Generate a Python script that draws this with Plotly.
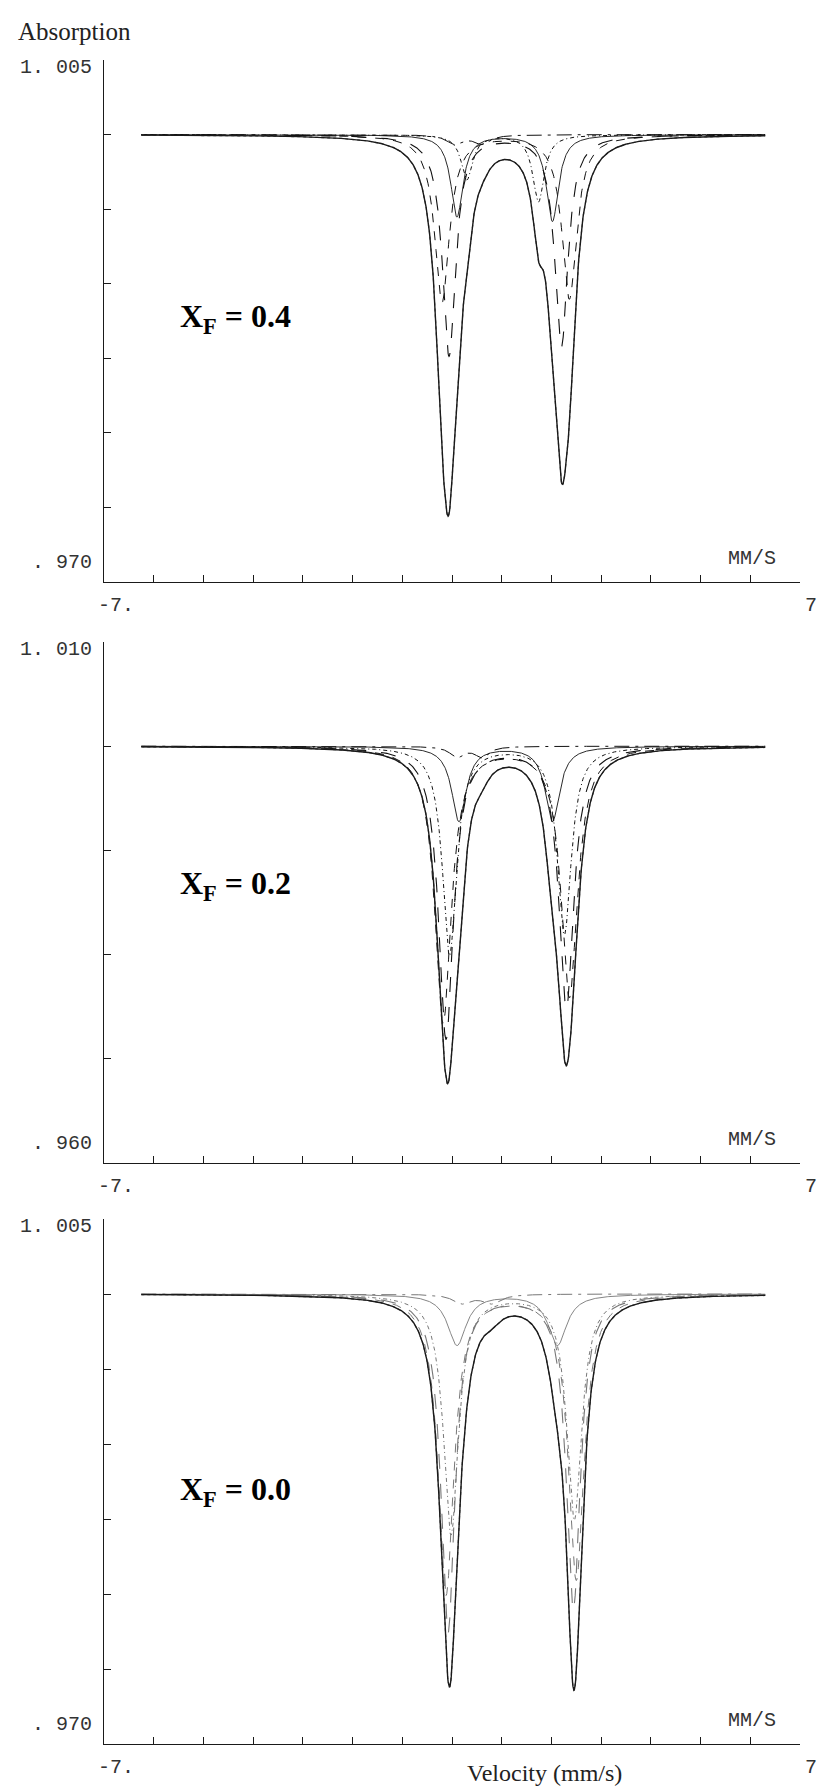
import numpy as np
import plotly.graph_objects as go

# ---------------- values ----------------
velocity_limits = [-7.0, 7.0]
velocity_ticks = [-6, -5, -4, -3, -2, -1, 0, 1, 2, 3, 4, 5, 6, 7]
data_span = [-6.25, 6.30]

panel_labels = ["X<sub>F</sub> = 0.4", "X<sub>F</sub> = 0.2", "X<sub>F</sub> = 0.0"]
y_ranges = [[0.970, 1.005], [0.960, 1.010], [0.970, 1.005]]
y_top_text = ["1. 005", "1. 010", "1. 005"]
y_bottom_text = [". 970", ". 960", ". 970"]
y_tick_values = [[0.975, 0.980, 0.985, 0.990, 0.995, 1.000],
                 [0.970, 0.980, 0.990, 1.000],
                 [0.975, 0.980, 0.985, 0.990, 0.995, 1.000]]

# envelope (total fit) lines: left line, right line, left depth, right depth, FWHM mm/s
p1_fit_lv = [-0.06, -0.20, 0.10, 0.30, 0.05]
p1_fit_rv = [2.20, 2.36, 2.02, 1.74, 0.60]
p1_fit_ld = [0.0148, 0.0112, 0.0055, 0.0030, 0.0006]
p1_fit_rd = [0.0142, 0.0110, 0.0058, 0.0045, 0.0006]
p1_fit_fw = [0.32, 0.36, 0.30, 0.28, 0.40]

p2_fit_lv = [-0.05, -0.20, 0.14, -0.12, 0.10]
p2_fit_rv = [2.25, 2.42, 2.02, 2.33, 0.60]
p2_fit_ld = [0.0140, 0.0110, 0.0072, 0.0075, 0.0010]
p2_fit_rd = [0.0140, 0.0112, 0.0072, 0.0075, 0.0010]
p2_fit_fw = [0.34, 0.40, 0.35, 0.35, 0.35]

p3_fit_lv = [-0.05, -0.15, 0.10, 0.00, 0.20]
p3_fit_rv = [2.42, 2.52, 2.12, 2.47, 0.80]
p3_fit_ld = [0.0109, 0.0086, 0.0034, 0.0062, 0.0006]
p3_fit_rd = [0.0115, 0.0090, 0.0034, 0.0062, 0.0006]
p3_fit_fw = [0.32, 0.38, 0.45, 0.36, 0.45]

# drawn sub-spectra curves (same order of line styles)
p1_sub_lv = p1_fit_lv
p1_sub_rv = p1_fit_rv
p1_sub_ld = p1_fit_ld
p1_sub_rd = p1_fit_rd
p1_sub_fw = p1_fit_fw

p2_sub_lv = [-0.12, -0.18, 0.14, -0.05, 0.10]
p2_sub_rv = [2.30, 2.36, 2.02, 2.26, 0.60]
p2_sub_ld = [0.0280, 0.0265, 0.0072, 0.0200, 0.0010]
p2_sub_rd = [0.0250, 0.0240, 0.0072, 0.0180, 0.0010]
p2_sub_fw = [0.36, 0.40, 0.35, 0.34, 0.35]

p3_sub_lv = [-0.08, -0.12, 0.10, -0.02, 0.20]
p3_sub_rv = [2.44, 2.50, 2.12, 2.46, 0.80]
p3_sub_ld = [0.0225, 0.0200, 0.0034, 0.0160, 0.0006]
p3_sub_rd = [0.0210, 0.0190, 0.0034, 0.0150, 0.0006]
p3_sub_fw = [0.34, 0.38, 0.45, 0.36, 0.45]

fits = [(p1_fit_lv, p1_fit_rv, p1_fit_ld, p1_fit_rd, p1_fit_fw),
        (p2_fit_lv, p2_fit_rv, p2_fit_ld, p2_fit_rd, p2_fit_fw),
        (p3_fit_lv, p3_fit_rv, p3_fit_ld, p3_fit_rd, p3_fit_fw)]
subs = [(p1_sub_lv, p1_sub_rv, p1_sub_ld, p1_sub_rd, p1_sub_fw),
        (p2_sub_lv, p2_sub_rv, p2_sub_ld, p2_sub_rd, p2_sub_fw),
        (p3_sub_lv, p3_sub_rv, p3_sub_ld, p3_sub_rd, p3_sub_fw)]

# ---------------- styling / layout ----------------
W, H = 829, 1787
x_px = [96, 792]
panel_px = [(52, 574), (634, 1155), (1211, 1736)]
label_px_y = [310, 878, 1483]
comp_color = ["#111", "#111", "#777"]

comp_dash = ["longdash", "dash", "solid", "4px,3px,1px,3px", "longdashdot"]
comp_width = [1.1, 1.0, 0.9, 1.0, 1.0]

mono = "Liberation Mono"
serif = "Liberation Serif"
ink = "#1a1a1a"

fig = go.Figure()
v = np.linspace(data_span[0], data_span[1], 1400)


def doublet(vel, lv, rv, ld, rd, fw):
    g = (fw / 2.0) ** 2
    return ld * g / ((vel - lv) ** 2 + g) + rd * g / ((vel - rv) ** 2 + g)


annotations = []
for i in range(3):
    k = "" if i == 0 else str(i + 1)
    xa, ya = "x" + k, "y" + k
    slv, srv, sld, srd, sfw = subs[i]
    for j in range(len(slv)):
        comp = doublet(v, slv[j], srv[j], sld[j], srd[j], sfw[j])
        fig.add_trace(go.Scatter(x=v, y=1 - comp, mode="lines",
                                 line=dict(dash=comp_dash[j], width=comp_width[j],
                                           color=comp_color[i]),
                                 xaxis=xa, yaxis=ya, showlegend=False, hoverinfo="skip"))
    flv, frv, fld, frd, ffw = fits[i]
    total = np.zeros_like(v)
    for j in range(len(flv)):
        total += doublet(v, flv[j], frv[j], fld[j], frd[j], ffw[j])
    fig.add_trace(go.Scatter(x=v, y=1 - total, mode="lines",
                             line=dict(color="#555", width=1.2, dash="dot"),
                             xaxis=xa, yaxis=ya, showlegend=False, hoverinfo="skip"))
    fig.add_trace(go.Scatter(x=v, y=1 - total, mode="lines",
                             line=dict(color=ink, width=1.4),
                             xaxis=xa, yaxis=ya, showlegend=False, hoverinfo="skip"))

    top, bot = panel_px[i]
    dom_y = [1 - bot / H, 1 - top / H]
    fig.update_layout(**{
        "xaxis" + k: dict(domain=[x_px[0] / W, x_px[1] / W], range=velocity_limits,
                          anchor=ya, showline=True, linecolor=ink, linewidth=1.3,
                          ticks="inside", ticklen=7, tickwidth=1.0, tickcolor=ink,
                          tickvals=velocity_ticks, showticklabels=False,
                          showgrid=False, zeroline=False),
        "yaxis" + k: dict(domain=dom_y, range=y_ranges[i], anchor=xa,
                          showline=True, linecolor=ink, linewidth=1.3,
                          ticks="inside", ticklen=7, tickwidth=1.0, tickcolor=ink,
                          tickvals=y_tick_values[i], showticklabels=False,
                          showgrid=False, zeroline=False),
    })
    yr = y_ranges[i]
    tf = dict(family=mono, size=20, color="#333")
    annotations += [
        dict(text=y_top_text[i], x=x_px[0] / W - 0.012, xref="paper", y=yr[1], yref=ya,
             xanchor="right", yanchor="middle", yshift=-7, showarrow=False, font=tf),
        dict(text=y_bottom_text[i], x=x_px[0] / W - 0.012, xref="paper", y=yr[0], yref=ya,
             xanchor="right", yanchor="middle", yshift=20, showarrow=False, font=tf),
        dict(text="-7.", x=velocity_limits[0], xref=xa, y=yr[0], yref=ya,
             xanchor="left", yanchor="top", yshift=-10, xshift=-8, showarrow=False, font=tf),
        dict(text="7.", x=velocity_limits[1], xref=xa, y=yr[0], yref=ya,
             xanchor="right", yanchor="top", yshift=-10, xshift=31, showarrow=False, font=tf),
        dict(text="MM/S", x=velocity_limits[1], xref=xa, y=yr[0], yref=ya,
             xanchor="right", yanchor="bottom", yshift=10, xshift=-22, showarrow=False, font=tf),
        dict(text="<b>" + panel_labels[i] + "</b>", x=170 / W, xref="paper",
             y=1 - label_px_y[i] / H, yref="paper", xanchor="left", yanchor="middle",
             showarrow=False, font=dict(family=serif, size=32, color="#000")),
    ]

annotations += [
    dict(text="Absorption", x=8 / W, y=1 - 24 / H, xref="paper", yref="paper",
         xanchor="left", yanchor="middle", showarrow=False,
         font=dict(family=serif, size=25, color="#222")),
    dict(text="Velocity (mm/s)", x=536 / W, y=1 - 1765 / H, xref="paper", yref="paper",
         xanchor="center", yanchor="middle", showarrow=False,
         font=dict(family=serif, size=24, color="#222")),
]

fig.update_layout(width=W, height=H, margin=dict(l=0, r=0, t=0, b=0),
                  paper_bgcolor="white", plot_bgcolor="white",
                  annotations=annotations, showlegend=False)

fig.write_html("out.html")
